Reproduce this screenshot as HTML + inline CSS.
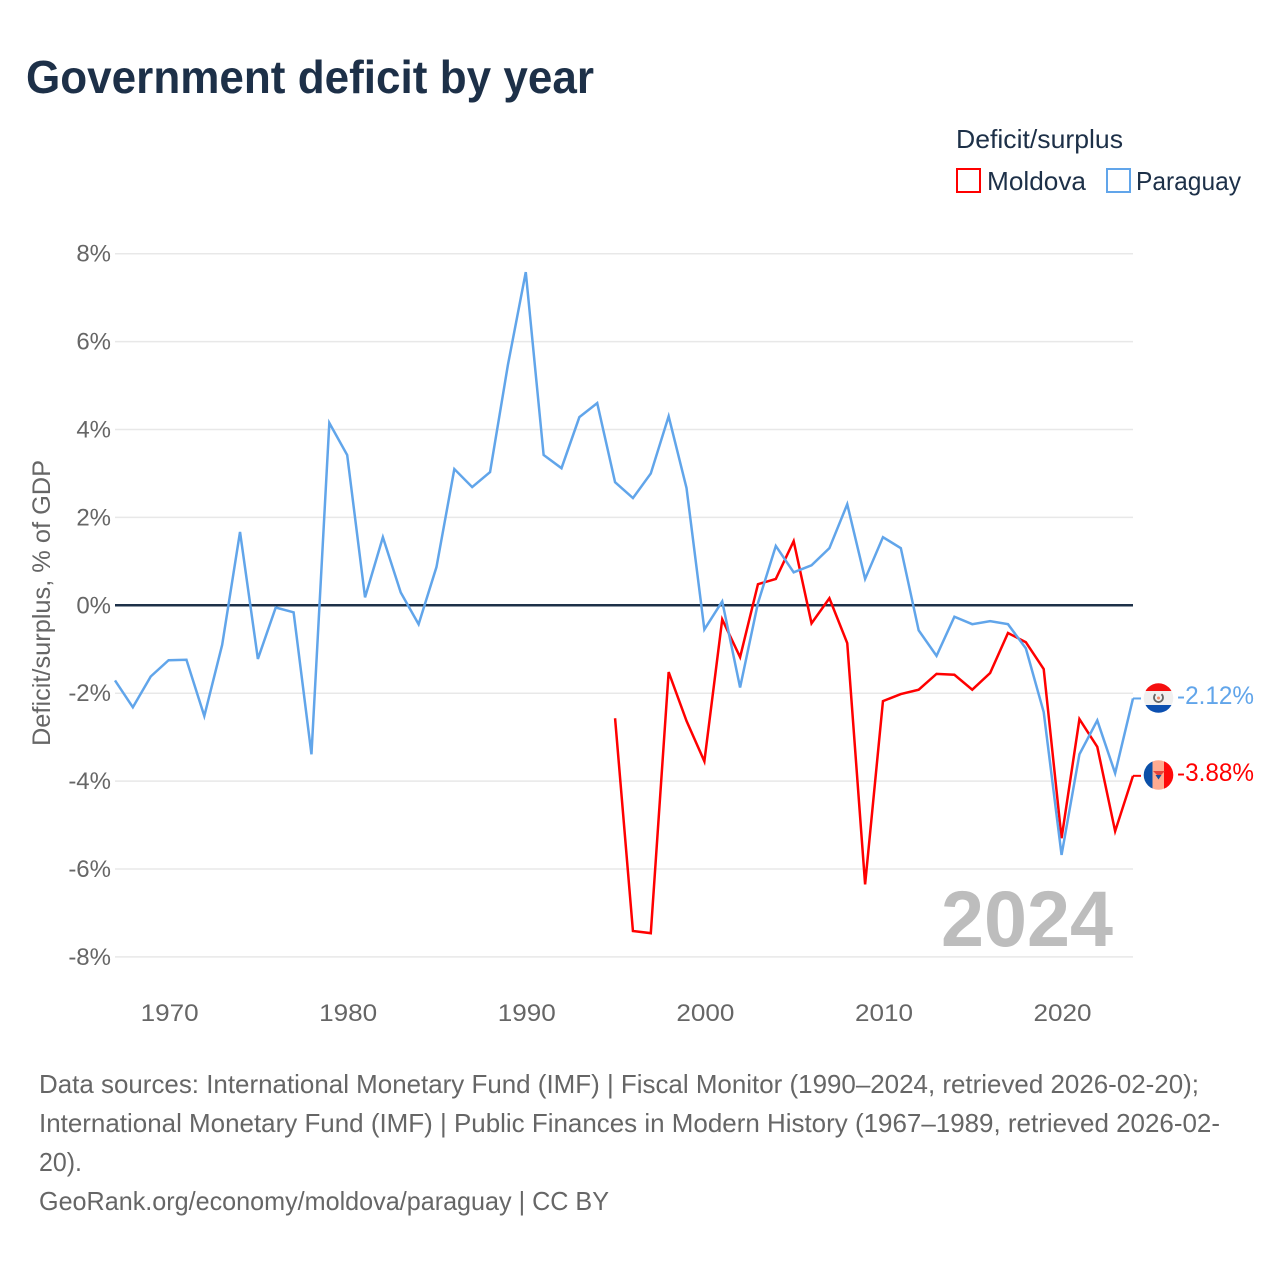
<!DOCTYPE html>
<html lang="en">
<head>
<meta charset="utf-8">
<title>Government deficit by year</title>
<style>
html,body{margin:0;padding:0;background:#fff;}
svg{display:block;font-family:"Liberation Sans",sans-serif;}
</style>
</head>
<body>
<svg id="chart" width="1280" height="1280" viewBox="0 0 1280 1280" xmlns="http://www.w3.org/2000/svg">
  <defs>
    <clipPath id="flag-clip-py"><circle cx="1158.5" cy="698" r="14.8"/></clipPath>
    <clipPath id="flag-clip-md"><circle cx="1158.5" cy="775" r="14.8"/></clipPath>
  </defs>
  <text x="26" y="93" font-size="46" font-weight="700" fill="#1d3048" textLength="568" lengthAdjust="spacingAndGlyphs">Government deficit by year</text>

  <text x="956" y="148" font-size="26" fill="#1d3048" textLength="167" lengthAdjust="spacingAndGlyphs">Deficit/surplus</text>
  <rect x="957" y="169" width="23" height="23" fill="#fff" stroke="#ff0000" stroke-width="2"/>
  <text x="987" y="190" font-size="26" fill="#1d3048" textLength="99" lengthAdjust="spacingAndGlyphs">Moldova</text>
  <rect x="1107" y="169" width="23" height="23" fill="#fff" stroke="#61a5ea" stroke-width="2"/>
  <text x="1136" y="190" font-size="26" fill="#1d3048" textLength="105" lengthAdjust="spacingAndGlyphs">Paraguay</text>

  <g id="grid"></g>
  <g id="y-ticks"></g>
  <g id="x-ticks"></g>
  <text transform="translate(50,603) rotate(-90)" text-anchor="middle" font-size="25" fill="#666666" textLength="286" lengthAdjust="spacingAndGlyphs">Deficit/surplus, % of GDP</text>

  <text x="941" y="946" font-size="79" font-weight="700" fill="#bdbdbd" textLength="172" lengthAdjust="spacingAndGlyphs">2024</text>

  <g id="series"></g>

  <g clip-path="url(#flag-clip-py)">
    <rect x="1143" y="682" width="31" height="9" fill="#f50f0f"/>
    <rect x="1143" y="691" width="31" height="14" fill="#f0f0f0"/>
    <rect x="1143" y="705" width="31" height="9" fill="#0b4fb0"/>
    <path d="M1155.500 694.200a4.500 4.500 0 1 0 6 0" fill="none" stroke="#666" stroke-width="1.800"/>
    <circle cx="1158.500" cy="698" r="1.500" fill="#ef8a6a"/>
  </g>
  <g clip-path="url(#flag-clip-md)">
    <rect x="1143" y="760" width="9.500" height="31" fill="#0b50a8"/>
    <rect x="1152.500" y="760" width="11.500" height="31" fill="#ffab91"/>
    <rect x="1164" y="760" width="10" height="31" fill="#ff0a0a"/>
    <path d="M1153 771h12l-6 6z" fill="#e8443a"/>
    <path d="M1155.500 775h6l-3 4.500z" fill="#1d4f9c"/>
  </g>
  <text id="label-py" x="1177" y="704" font-size="25" fill="#61a5ea" textLength="77" lengthAdjust="spacingAndGlyphs"></text>
  <text id="label-md" x="1177" y="781" font-size="25" fill="#ff0000" textLength="77" lengthAdjust="spacingAndGlyphs"></text>

  <g font-size="26" fill="#666666">
    <text x="39" y="1093" textLength="1160" lengthAdjust="spacingAndGlyphs">Data sources: International Monetary Fund (IMF) | Fiscal Monitor (1990–2024, retrieved 2026-02-20);</text>
    <text x="39" y="1132" textLength="1181" lengthAdjust="spacingAndGlyphs">International Monetary Fund (IMF) | Public Finances in Modern History (1967–1989, retrieved 2026-02-</text>
    <text x="39" y="1171" textLength="43" lengthAdjust="spacingAndGlyphs">20).</text>
    <a><text x="39" y="1210" textLength="570" lengthAdjust="spacingAndGlyphs">GeoRank.org/economy/moldova/paraguay | CC BY</text></a>
  </g>
</svg>
<script>
var paraguayStartYear = 1967;
var paraguayValues = [-1.71,-2.32,-1.62,-1.25,-1.24,-2.52,-0.9,1.67,-1.22,-0.05,-0.16,-3.39,4.15,3.42,0.18,1.55,0.29,-0.43,0.87,3.1,2.69,3.03,5.47,7.58,3.42,3.12,4.28,4.6,2.8,2.44,3.0,4.3,2.67,-0.55,0.09,-1.87,0.05,1.35,0.75,0.91,1.3,2.3,0.6,1.55,1.3,-0.57,-1.15,-0.26,-0.43,-0.36,-0.43,-0.98,-2.43,-5.68,-3.39,-2.62,-3.82,-2.12];
var moldovaStartYear = 1995;
var moldovaValues = [-2.57,-7.41,-7.46,-1.52,-2.63,-3.55,-0.32,-1.18,0.48,0.6,1.46,-0.41,0.16,-0.86,-6.35,-2.18,-2.02,-1.92,-1.56,-1.58,-1.92,-1.54,-0.63,-0.84,-1.45,-5.3,-2.59,-3.22,-5.14,-3.88];
var yTicks = [8,6,4,2,0,-2,-4,-6,-8];
var xTicks = [1970,1980,1990,2000,2010,2020];

var NS = 'http://www.w3.org/2000/svg';
function xScale(year){ return 115 + (year - 1967) * (1133 - 115) / 57; }
function yScale(v){ return 605.3 - v * 43.95; }
function make(tag, attrs, parent, text){
  var el = document.createElementNS(NS, tag);
  for (var k in attrs) el.setAttribute(k, attrs[k]);
  if (text !== undefined) el.textContent = text;
  parent.appendChild(el);
  return el;
}
var grid = document.getElementById('grid');
var yGroup = document.getElementById('y-ticks');
var xGroup = document.getElementById('x-ticks');
var seriesGroup = document.getElementById('series');

yTicks.forEach(function(t){
  if (t !== 0) {
    var g = make('line', {x1:115, x2:1133, y1:yScale(t), y2:yScale(t), stroke:'#e8e8e8', 'stroke-width':1.5}, grid);
    
    
  }
  var lbl = make('text', {x:111, y:yScale(t) + 8, 'text-anchor':'end', 'font-size':24, fill:'#666666'}, yGroup, t + '%');
  
  
});
xTicks.forEach(function(t){
  var lbl = make('text', {x:xScale(t) + 1, y:1021, 'text-anchor':'middle', 'font-size':24, fill:'#666666', textLength:58, lengthAdjust:'spacingAndGlyphs'}, xGroup, String(t));
  
  
});

function points(startYear, values){
  return values.map(function(v, i){ return xScale(startYear + i).toFixed(2) + ',' + yScale(v).toFixed(2); }).join(' ');
}
function drawSeries(startYear, values, color, name, leaderName){
  var pl = make('polyline', {points:points(startYear, values), fill:'none', stroke:color, 'stroke-width':2.5, 'stroke-linejoin':'miter'}, seriesGroup);
  
  
  var last = values[values.length - 1];
  var lastYear = startYear + values.length - 1;
  var leader = make('line', {x1:xScale(lastYear), x2:xScale(lastYear) + 8, y1:yScale(last), y2:yScale(last), stroke:color, 'stroke-width':2}, seriesGroup);
  
  
}
// zero baseline
var zero = make('line', {x1:115, x2:1133, y1:yScale(0), y2:yScale(0), stroke:'#1d3048', 'stroke-width':2.5}, grid);



drawSeries(moldovaStartYear, moldovaValues, '#ff0000', 'moldova-line', 'moldova-leader');
drawSeries(paraguayStartYear, paraguayValues, '#61a5ea', 'paraguay-line', 'paraguay-leader');

document.getElementById('label-py').textContent = paraguayValues[paraguayValues.length - 1].toFixed(2) + '%';
document.getElementById('label-md').textContent = moldovaValues[moldovaValues.length - 1].toFixed(2) + '%';
</script>
</body>
</html>
